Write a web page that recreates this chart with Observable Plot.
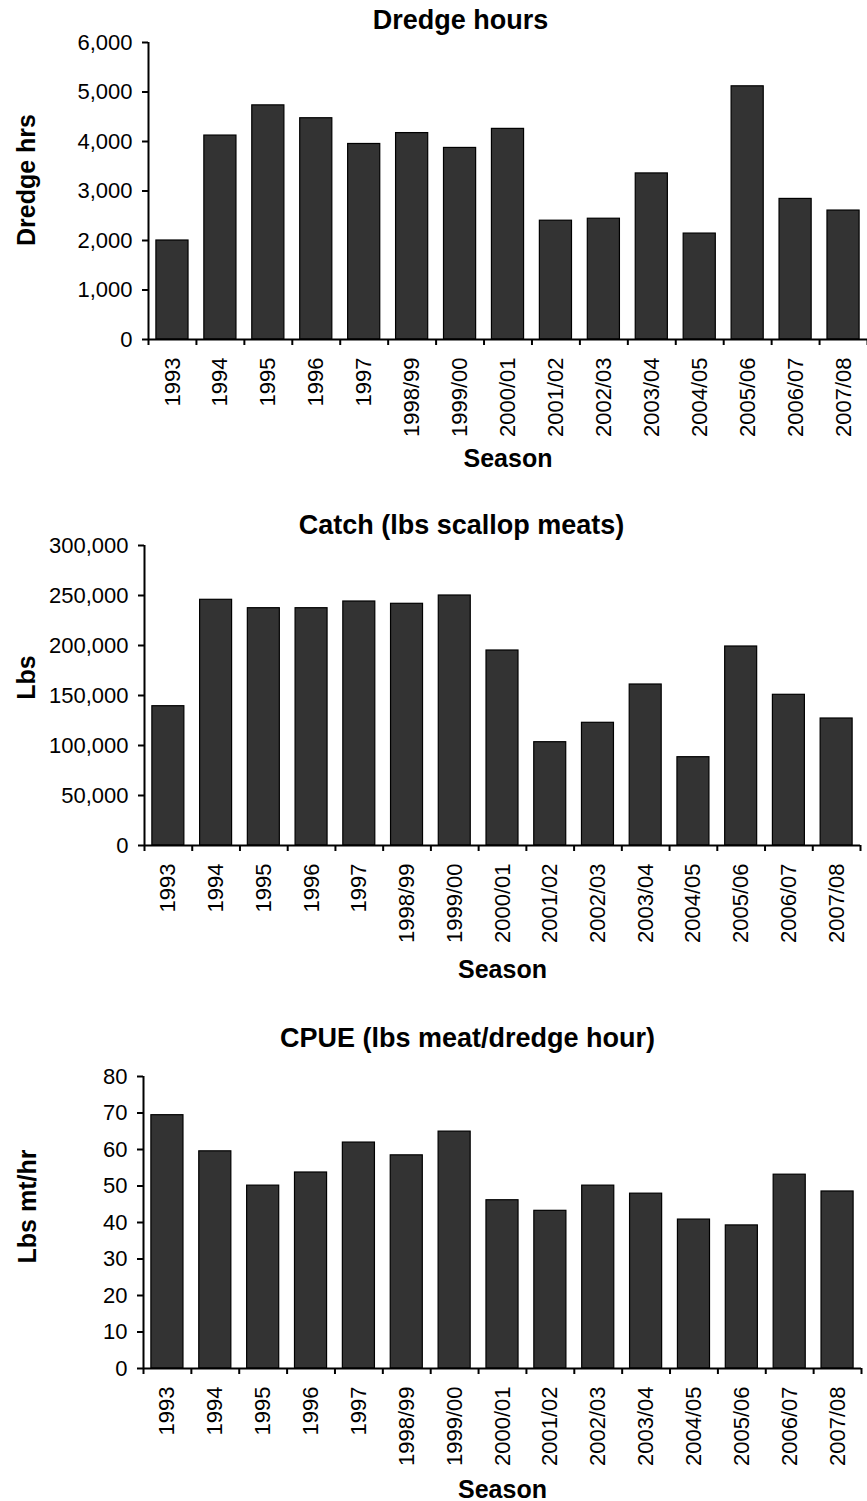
<!DOCTYPE html>
<html>
<head>
<meta charset="utf-8">
<script src="https://cdn.jsdelivr.net/npm/d3@7"></script>
<script src="https://cdn.jsdelivr.net/npm/@observablehq/plot@0.6"></script>
<style>
  html, body { margin: 0; padding: 0; background: #fff; }
  #charts { width: 867px; }
  #charts svg { display: block; }
</style>
</head>
<body>
<div id="charts"></div>
<script>
// ---- Data ----
const seasons = ["1993", "1994", "1995", "1996", "1997", "1998/99", "1999/00", "2000/01",
  "2001/02", "2002/03", "2003/04", "2004/05", "2005/06", "2006/07", "2007/08"];
const dredgeHours = [2000, 4120, 4730, 4470, 3950, 4170, 3870, 4255, 2400, 2440, 3355, 2140, 5115, 2840, 2605];
const catchLbs = [139300, 245700, 237300, 237300, 244000, 241700, 250000, 195000, 103300, 122700, 161000, 88300, 199000, 150700, 127000];
const cpue = [69.4, 59.5, 50.1, 53.7, 61.9, 58.4, 64.9, 46.1, 43.2, 50.1, 47.9, 40.8, 39.2, 53.1, 48.5];

const titles = ["Dredge hours", "Catch (lbs scallop meats)", "CPUE (lbs meat/dredge hour)"];
const yLabels = ["Dredge hrs", "Lbs", "Lbs mt/hr"];
const xLabel = "Season";
const yDomains = [[0, 6000], [0, 300000], [0, 80]];
const yTicks = [
  [0, 1000, 2000, 3000, 4000, 5000, 6000],
  [0, 50000, 100000, 150000, 200000, 250000, 300000],
  [0, 10, 20, 30, 40, 50, 60, 70, 80]
];

// ---- Layout ----
const W = 867;
const layouts = [
  {height: 500, mt: 42, mb: 161, ml: 148, mr: 0, titleX: 460, titleY: 20, yLabX: 26, yLabDy: -11, seasonDy: 119},
  {height: 520, mt: 45, mb: 175, ml: 144, mr: 7, titleX: 461, titleY: 25, yLabX: 26, yLabDy: -18, seasonDy: 124},
  {height: 481, mt: 56, mb: 133, ml: 143, mr: 6, titleX: 467, titleY: 18, yLabX: 27, yLabDy: -16, seasonDy: 121}
];
const series = [dredgeHours, catchLbs, cpue];
const FONT = "'Liberation Sans', Arial, Helvetica, sans-serif";
const comma = d3.format(",");

function panel(i) {
  const L = layouts[i];
  const data = seasons.map((s, j) => ({season: s, value: series[i][j]}));
  const step = (W - L.ml - L.mr) / seasons.length;
  return Plot.plot({
    width: W,
    height: L.height,
    marginTop: L.mt,
    marginBottom: L.mb,
    marginLeft: L.ml,
    marginRight: L.mr,
    style: {fontFamily: FONT, fontSize: "22px", color: "#000", background: "#fff", overflow: "visible"},
    x: {domain: seasons, paddingInner: 0.33, paddingOuter: 0.165, round: false},
    y: {domain: yDomains[i]},
    marks: [
      Plot.barY(data, {x: "season", y: "value", fill: "#333333", stroke: "#000", strokeWidth: 1.2}),
      // baseline and left axis line
      Plot.ruleY([0], {stroke: "#000", strokeWidth: 2}),
      Plot.ruleX([seasons[0]], {stroke: "#000", strokeWidth: 2, dx: -step / 2}),
      // y axis
      Plot.axisY({ticks: yTicks[i], tickFormat: comma, tickSize: 6, tickPadding: 10, strokeWidth: 2,
        fontSize: 22, label: null}),
      // x tick labels (rotated)
      Plot.axisX({tickSize: 0, tickRotate: -90, tickPadding: 18, fontSize: 22, label: null}),
      // x tick marks between categories
      Plot.axisX({fill: "none", tickSize: 6, strokeWidth: 2, dx: -step / 2, label: null}),
      Plot.axisX([seasons[seasons.length - 1]], {fill: "none", tickSize: 6, strokeWidth: 2, dx: step / 2, label: null}),
      // title
      Plot.text([titles[i]], {frameAnchor: "top-left", text: d => d, dx: L.titleX - L.ml, dy: L.titleY - L.mt,
        textAnchor: "middle", lineAnchor: "middle", fontWeight: "bold", fontSize: 27, fill: "#000"}),
      // y label
      Plot.text([yLabels[i]], {frameAnchor: "left", text: d => d, rotate: -90, dx: L.yLabX - L.ml, dy: L.yLabDy,
        textAnchor: "middle", lineAnchor: "middle", fontWeight: "bold", fontSize: 25, fill: "#000"}),
      // x label
      Plot.text([xLabel], {frameAnchor: "bottom", text: d => d, dy: L.seasonDy,
        textAnchor: "middle", lineAnchor: "middle", fontWeight: "bold", fontSize: 25, fill: "#000"})
    ]
  });
}

const root = document.getElementById("charts");
for (let i = 0; i < 3; i++) root.appendChild(panel(i));
</script>
</body>
</html>
